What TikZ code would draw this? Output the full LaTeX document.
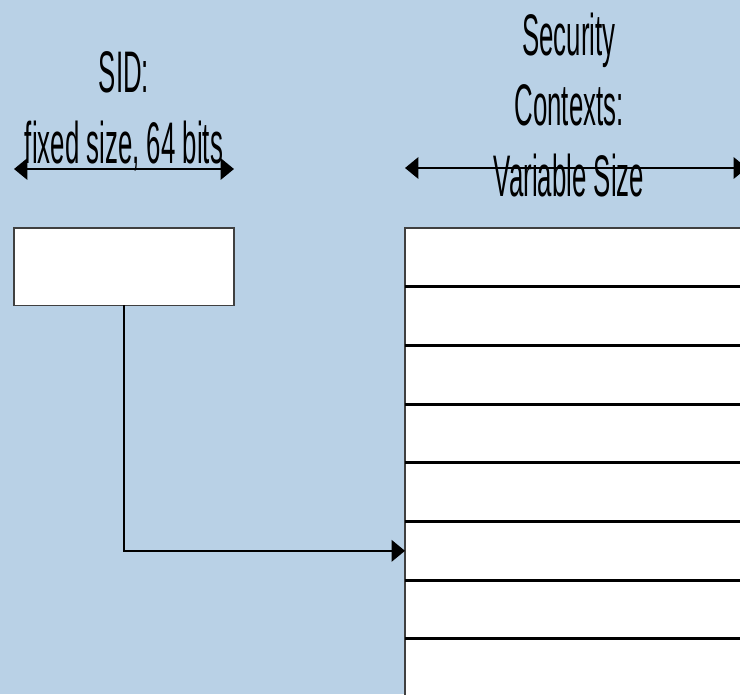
\documentclass[tikz,border=0pt]{standalone}
\usepackage{fontspec}
\setmainfont{Liberation Sans}
\usetikzlibrary{arrows.meta, positioning}
\definecolor{bgblue}{RGB}{185,209,230}
\definecolor{edgegray}{RGB}{64,64,64}

\begin{document}
\begin{tikzpicture}[x=0.75pt, y=-0.75pt,
  lbl/.style={font=\fontsize{44}{50}\selectfont, xscale=0.44, anchor=base, inner sep=0pt},
  sidbox/.style={draw=edgegray, line width=0.8pt, fill=white, minimum width=165pt, minimum height=58pt, anchor=north west, inner sep=0pt, outer sep=0pt},
  cellbox/.style={draw=edgegray, line width=0.8pt, fill=white, minimum width=270pt, minimum height=44pt, anchor=north west, inner sep=0pt, outer sep=0pt},
  sepline/.style={line width=2.2pt, black},
  dimarrow/.style={line width=1.6pt, {Triangle[length=10pt,width=16pt]}-{Triangle[length=10pt,width=16pt]}},
  conn/.style={line width=1.6pt, -{Triangle[length=10pt,width=16pt]}}]
\useasboundingbox (0,0) rectangle (740,694);
\clip (0,0) rectangle (740,694);
\fill[bgblue] (0,0) rectangle (740,694);

% labels
\node[lbl] (sidtitle) at (124,92) {SID:};
\node[lbl] (sidsize) at (124,163) {fixed size, 64 bits};
\node[lbl] (sectitle) at (569,55) {Security};
\node[lbl] (secctx) at (569,125) {Contexts:};

% size arrows
\coordinate (sidleft) at (14,169);
\coordinate (sidright) at (234,169);
\coordinate (secleft) at (405,168);
\coordinate (secright) at (747,168);
\draw[dimarrow] (sidleft) -- (sidright);
\draw[dimarrow] (secleft) -- (secright);
\node[lbl] (secsize) at (569,196) {Variable Size};

% SID box
\node[sidbox] (sid) at (14,228) {};

% context table
\foreach \i in {1,...,8}
  \node[cellbox] (cell\i) at (405,{228+(\i-1)*58.7}) {};
\foreach \i in {1,...,7}
  \draw[sepline] (cell\i.south west) -- (cell\i.south east);

\draw[conn] (sid.south) |- (cell6.west);
\end{tikzpicture}
\end{document}
